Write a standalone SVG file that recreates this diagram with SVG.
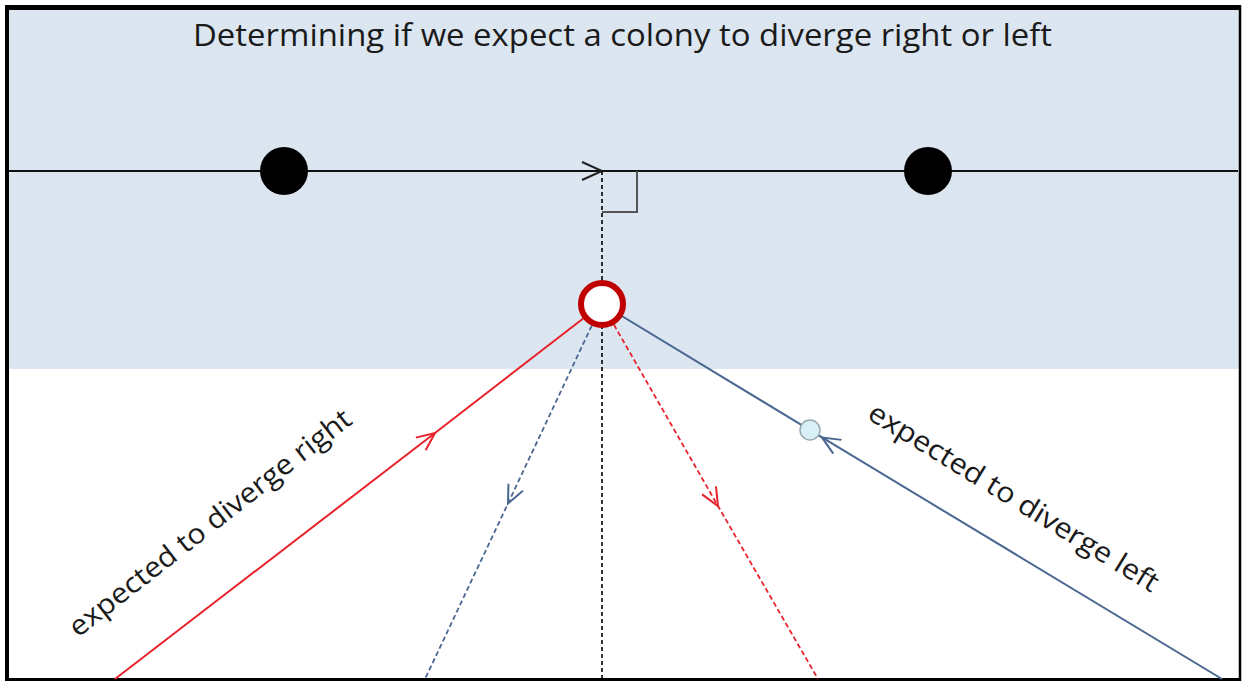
<svg xmlns="http://www.w3.org/2000/svg" width="1242" height="682" viewBox="0 0 1242 682">
  <style>
    .title { font-family: "Open Sans", "Liberation Sans", sans-serif; font-size: 31px; fill: #1a1a1a; }
    .label { font-family: "Open Sans", "Liberation Sans", sans-serif; font-size: 28px; fill: #1a1a1a; }
    .red { stroke: #e8232b; stroke-width: 2; fill: none; }
    .blue { stroke: #4a6792; stroke-width: 2; fill: none; }
    .dash { stroke-dasharray: 5 3; stroke-width: 1.8; }
  </style>
  <defs>
    <marker id="chev-red" markerUnits="userSpaceOnUse" orient="auto" refX="0" refY="0" markerWidth="20" markerHeight="20" overflow="visible">
      <path d="M -18 -8 L 0 0 L -18 8" fill="none" stroke="#e8232b" stroke-width="2"/>
    </marker>
    <marker id="chev-blue" markerUnits="userSpaceOnUse" orient="auto" refX="0" refY="0" markerWidth="20" markerHeight="20" overflow="visible">
      <path d="M -18 -8 L 0 0 L -18 8" fill="none" stroke="#4a6792" stroke-width="2"/>
    </marker>
    <marker id="chev-black" markerUnits="userSpaceOnUse" orient="auto" refX="0" refY="0" markerWidth="20" markerHeight="20" overflow="visible">
      <path d="M -20 -9 L 0 0 L -20 9" fill="none" stroke="#222" stroke-width="2"/>
    </marker>
  </defs>

  <!-- background -->
  <rect x="0" y="0" width="1242" height="682" fill="#ffffff"/>
  <rect x="9" y="10" width="1231" height="359" fill="#dce6f1"/>

  <!-- frame -->
  <g id="frame" stroke="#000" fill="none">
    <line x1="5" y1="7.5" x2="1241" y2="7.5" stroke-width="5"/>
    <line x1="7" y1="5" x2="7" y2="681" stroke-width="4"/>
    <line x1="1240" y1="5" x2="1240" y2="681" stroke-width="2.5"/>
    <line x1="5" y1="679.5" x2="1241" y2="679.5" stroke-width="3"/>
  </g>

  <text class="title" x="193" y="46" textLength="859" lengthAdjust="spacingAndGlyphs">Determining if we expect a colony to diverge right or left</text>

  <!-- connectors -->
  <g id="connectors">
    <path d="M 9 171 L 602 171 L 1238 171" stroke="#111" stroke-width="2" fill="none" marker-mid="url(#chev-black)"/>
    <line x1="602" y1="171" x2="602" y2="678" stroke="#000" stroke-width="1.6" stroke-dasharray="4 3"/>
    <path d="M 637 171 L 637 212 L 602 212" stroke="#555" stroke-width="2" fill="none"/>
    <path class="red" d="M 115 679 L 435 433 L 602 304" marker-mid="url(#chev-red)"/>
    <path class="blue dash" d="M 602 304 L 508 503.5 L 425 679" marker-mid="url(#chev-blue)"/>
    <path class="red dash" d="M 602 304 L 718 506 L 818 679" marker-mid="url(#chev-red)"/>
    <path class="blue" d="M 1222 679 L 822 437.4 L 602 304" marker-mid="url(#chev-blue)"/>
  </g>

  <g id="node-left">
    <circle cx="284" cy="171" r="24" fill="#000"/>
  </g>
  <g id="node-right">
    <circle cx="928" cy="171" r="24" fill="#000"/>
  </g>
  <g id="node-colony">
    <circle cx="602" cy="304" r="21" fill="#ffffff" stroke="#c00000" stroke-width="6"/>
  </g>
  <g id="node-small">
    <circle cx="810" cy="430" r="10" fill="#d8f0f6" stroke="#9aa8b0" stroke-width="1.5"/>
  </g>

  <g id="labels">
    <text class="label" transform="translate(78,638) rotate(-38)" textLength="350" lengthAdjust="spacingAndGlyphs">expected to diverge right</text>
    <text class="label" transform="translate(866,418) rotate(31.5)" textLength="335" lengthAdjust="spacingAndGlyphs">expected to diverge left</text>
  </g>
</svg>
